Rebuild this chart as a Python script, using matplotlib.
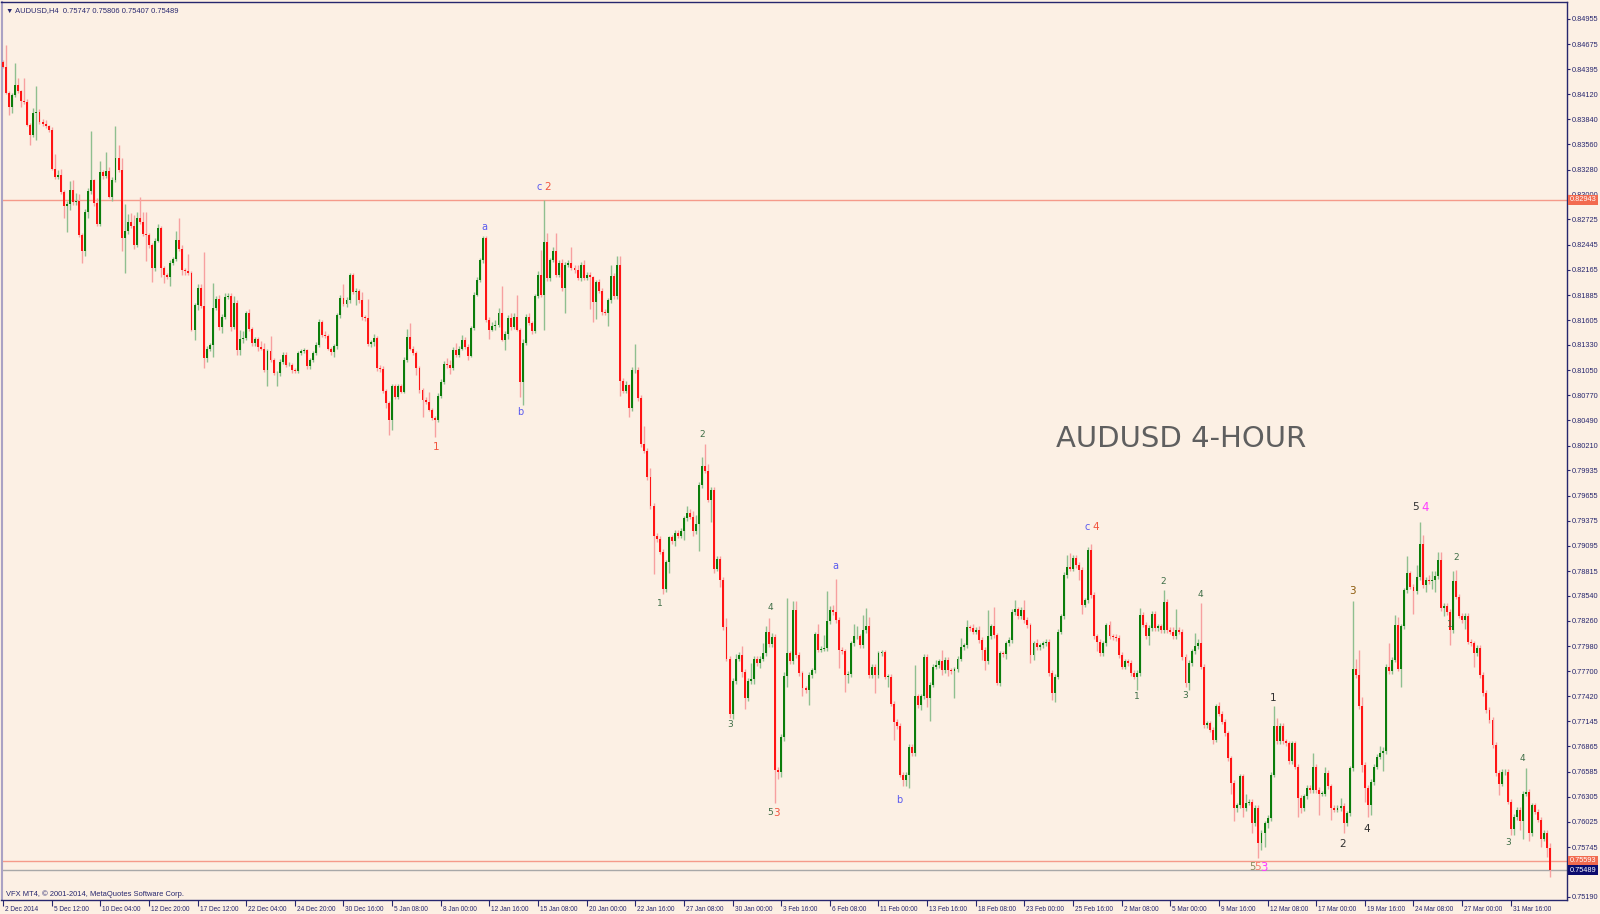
import numpy as np
import matplotlib
matplotlib.use("Agg")
import matplotlib.pyplot as plt
import matplotlib.transforms as mtransforms

# AUDUSD H4, bar closes in pips (price = value / 10000); open = previous close
first_open = 8448
closes = [
    8442, 8413, 8398, 8411, 8422, 8415, 8404, 8403, 8378, 8367,
    8391, 8392, 8381, 8379, 8376, 8372, 8329, 8320, 8322, 8303,
    8288, 8290, 8305, 8292, 8293, 8255, 8237, 8281, 8304, 8316,
    8291, 8268, 8325, 8321, 8326, 8298, 8316, 8341, 8328, 8252,
    8260, 8270, 8265, 8244, 8274, 8270, 8256, 8255, 8244, 8219,
    8249, 8263, 8219, 8211, 8209, 8224, 8228, 8250, 8240, 8216,
    8215, 8213, 8150, 8177, 8196, 8176, 8118, 8129, 8133, 8174,
    8184, 8153, 8164, 8186, 8187, 8153, 8180, 8127, 8140, 8141,
    8168, 8151, 8135, 8140, 8131, 8129, 8105, 8126, 8116, 8102,
    8102, 8114, 8122, 8111, 8111, 8105, 8104, 8124, 8126, 8127,
    8109, 8116, 8124, 8133, 8159, 8144, 8143, 8129, 8125, 8132,
    8166, 8185, 8178, 8183, 8211, 8192, 8193, 8183, 8164, 8163,
    8134, 8136, 8141, 8107, 8106, 8082, 8068, 8049, 8087, 8075,
    8087, 8081, 8116, 8142, 8129, 8124, 8107, 8083, 8072, 8070,
    8061, 8052, 8050, 8076, 8092, 8112, 8111, 8107, 8127, 8122,
    8129, 8139, 8131, 8121, 8152, 8189, 8205, 8227, 8252, 8161,
    8150, 8154, 8155, 8169, 8139, 8145, 8163, 8153, 8164, 8150,
    8092, 8135, 8164, 8157, 8148, 8187, 8211, 8188, 8248, 8207,
    8227, 8237, 8211, 8224, 8196, 8222, 8224, 8219, 8216, 8207,
    8222, 8207, 8211, 8208, 8181, 8203, 8193, 8170, 8168, 8183,
    8210, 8187, 8222, 8093, 8082, 8088, 8063, 8105, 8105, 8074,
    8023, 8015, 7986, 7954, 7921, 7917, 7903, 7862, 7891, 7919,
    7915, 7924, 7921, 7926, 7940, 7946, 7942, 7926, 7934, 7977,
    7998, 7993, 7961, 7972, 7884, 7895, 7872, 7819, 7784, 7722,
    7759, 7784, 7788, 7769, 7740, 7759, 7761, 7784, 7779, 7784,
    7790, 7814, 7800, 7808, 7660, 7658, 7697, 7765, 7790, 7781,
    7838, 7788, 7768, 7751, 7749, 7766, 7771, 7811, 7794, 7795,
    7796, 7826, 7838, 7836, 7827, 7794, 7792, 7766, 7767, 7801,
    7809, 7809, 7799, 7816, 7820, 7766, 7775, 7766, 7790, 7791,
    7764, 7764, 7734, 7714, 7709, 7655, 7649, 7655, 7686, 7679,
    7742, 7732, 7742, 7786, 7740, 7755, 7775, 7777, 7781, 7771,
    7783, 7771, 7770, 7772, 7784, 7797, 7799, 7819, 7818, 7814,
    7816, 7805, 7794, 7781, 7809, 7820, 7810, 7757, 7790, 7789,
    7801, 7805, 7836, 7839, 7831, 7838, 7827, 7821, 7788, 7801,
    7797, 7799, 7801, 7803, 7768, 7746, 7764, 7814, 7831, 7877,
    7886, 7884, 7896, 7888, 7883, 7844, 7849, 7905, 7855, 7809,
    7803, 7790, 7801, 7821, 7809, 7808, 7807, 7788, 7775, 7781,
    7779, 7768, 7764, 7768, 7833, 7822, 7809, 7818, 7834, 7818,
    7820, 7816, 7847, 7816, 7814, 7809, 7816, 7814, 7786, 7757,
    7779, 7792, 7798, 7801, 7775, 7710, 7712, 7705, 7694, 7731,
    7723, 7714, 7701, 7673, 7646, 7618, 7621, 7653, 7618, 7624,
    7625, 7601, 7618, 7579, 7590, 7601, 7607, 7655, 7709, 7692,
    7709, 7692, 7690, 7670, 7690, 7664, 7629, 7618, 7631, 7640,
    7638, 7664, 7638, 7634, 7634, 7657, 7642, 7618, 7616, 7618,
    7620, 7601, 7612, 7662, 7772, 7766, 7731, 7666, 7640, 7621,
    7647, 7664, 7675, 7679, 7681, 7775, 7770, 7783, 7822, 7773,
    7820, 7860, 7879, 7864, 7859, 7875, 7912, 7866, 7872, 7870,
    7872, 7876, 7894, 7840, 7843, 7836, 7816, 7870, 7853, 7832,
    7827, 7832, 7803, 7801, 7790, 7796, 7766, 7746, 7727, 7716,
    7688, 7657, 7645, 7658, 7658, 7625, 7595, 7608, 7616, 7603,
    7634, 7636, 7590, 7621, 7614, 7605, 7584, 7590, 7573, 7549,
]

# wick length above / below the body, in pips
hi_wick = [
    2, 25, 2, 2, 25, 8, 2, 26, 3, 2,
    6, 29, 3, 3, 4, 2, 3, 16, 6, 7,
    2, 3, 10, 11, 9, 8, 2, 3, 3, 55,
    1, 5, 13, 3, 22, 5, 4, 35, 14, 13,
    30, 9, 10, 13, 7, 24, 11, 25, 3, 2,
    3, 5, 2, 2, 2, 3, 3, 10, 24, 4,
    2, 19, 2, 3, 5, 5, 60, 3, 2, 28,
    3, 4, 3, 5, 4, 4, 7, 3, 10, 8,
    3, 5, 2, 2, 2, 6, 6, 3, 17, 2,
    2, 3, 3, 3, 3, 2, 2, 2, 3, 3,
    2, 2, 2, 3, 3, 2, 5, 2, 2, 2,
    2, 4, 16, 3, 2, 2, 3, 2, 9, 2,
    21, 2, 4, 2, 4, 4, 2, 3, 3, 3,
    3, 3, 3, 9, 15, 3, 2, 3, 2, 3,
    11, 2, 2, 3, 3, 3, 6, 5, 4, 8,
    3, 5, 3, 3, 2, 3, 3, 3, 2, 2,
    3, 4, 6, 5, 29, 4, 3, 6, 4, 24,
    2, 5, 3, 4, 3, 3, 4, 28, 46, 9,
    3, 5, 20, 3, 4, 3, 3, 18, 3, 6,
    3, 5, 3, 3, 2, 2, 3, 3, 3, 2,
    12, 3, 10, 10, 3, 5, 2, 3, 29, 3,
    3, 20, 3, 10, 3, 3, 3, 3, 3, 2,
    3, 3, 3, 3, 3, 8, 5, 6, 10, 3,
    10, 25, 8, 3, 3, 3, 3, 3, 10, 3,
    3, 5, 3, 10, 3, 3, 18, 3, 3, 3,
    12, 6, 15, 5, 3, 3, 3, 4, 61, 3,
    10, 10, 3, 2, 3, 3, 3, 3, 12, 3,
    14, 33, 5, 6, 37, 3, 3, 3, 3, 3,
    14, 11, 3, 17, 20, 10, 3, 3, 3, 3,
    3, 3, 3, 3, 3, 3, 3, 3, 3, 3,
    35, 3, 3, 3, 3, 3, 3, 5, 3, 13,
    3, 3, 3, 3, 3, 10, 3, 8, 3, 5,
    3, 4, 3, 3, 29, 3, 22, 3, 3, 3,
    3, 3, 3, 10, 3, 4, 11, 3, 3, 3,
    5, 3, 3, 3, 3, 3, 3, 3, 3, 3,
    13, 15, 3, 3, 3, 3, 3, 3, 7, 3,
    3, 3, 3, 3, 5, 3, 3, 3, 3, 3,
    3, 3, 3, 3, 7, 3, 3, 3, 3, 3,
    3, 3, 13, 3, 3, 5, 23, 3, 3, 3,
    3, 3, 15, 5, 45, 3, 3, 3, 3, 3,
    5, 3, 3, 3, 3, 3, 3, 3, 3, 10,
    3, 3, 3, 3, 3, 3, 3, 3, 22, 9,
    3, 3, 3, 3, 3, 3, 3, 3, 3, 3,
    3, 15, 3, 3, 3, 7, 3, 3, 3, 3,
    9, 3, 3, 3, 76, 12, 28, 10, 3, 3,
    3, 3, 3, 8, 5, 3, 26, 3, 11, 8,
    3, 3, 19, 3, 3, 13, 24, 10, 3, 5,
    10, 5, 9, 9, 3, 3, 3, 11, 13, 3,
    3, 3, 3, 3, 3, 3, 3, 3, 3, 3,
    3, 3, 3, 3, 3, 3, 3, 3, 3, 3,
    3, 26, 3, 3, 3, 3, 3, 3, 3, 6,
]
lo_wick = [
    1, 1, 9, 7, 2, 2, 6, 2, 2, 12,
    3, 30, 2, 2, 2, 2, 2, 2, 3, 2,
    14, 29, 7, 3, 3, 2, 13, 5, 7, 3,
    3, 3, 3, 3, 2, 2, 5, 2, 3, 15,
    39, 4, 2, 4, 2, 3, 2, 29, 3, 16,
    4, 2, 10, 9, 3, 10, 2, 2, 2, 5,
    4, 2, 2, 12, 5, 2, 11, 4, 3, 14,
    2, 3, 7, 2, 2, 5, 2, 5, 5, 5,
    2, 2, 3, 3, 5, 2, 2, 18, 2, 3,
    15, 4, 2, 3, 2, 3, 2, 2, 2, 2,
    3, 3, 2, 2, 2, 2, 2, 2, 3, 5,
    3, 3, 2, 3, 3, 2, 15, 3, 3, 3,
    2, 3, 4, 3, 3, 3, 5, 16, 11, 2,
    2, 2, 2, 2, 2, 2, 7, 3, 19, 3,
    2, 3, 19, 3, 2, 2, 4, 6, 2, 3,
    3, 2, 2, 5, 2, 2, 2, 2, 3, 3,
    10, 2, 4, 2, 2, 12, 5, 3, 2, 2,
    17, 26, 2, 2, 3, 2, 2, 2, 38, 3,
    3, 2, 3, 3, 3, 28, 2, 3, 3, 2,
    3, 2, 2, 35, 23, 19, 2, 4, 2, 14,
    3, 3, 3, 17, 3, 3, 10, 3, 3, 3,
    3, 2, 3, 3, 43, 3, 3, 6, 4, 12,
    3, 6, 3, 3, 10, 3, 3, 5, 3, 30,
    3, 3, 3, 25, 5, 3, 8, 3, 3, 4,
    5, 3, 3, 5, 12, 3, 3, 5, 3, 5,
    3, 3, 3, 3, 37, 8, 6, 5, 12, 3,
    3, 3, 3, 9, 3, 16, 3, 3, 3, 3,
    3, 3, 3, 3, 3, 20, 3, 19, 9, 3,
    3, 3, 3, 3, 3, 3, 3, 20, 3, 3,
    3, 11, 3, 20, 3, 3, 7, 7, 15, 3,
    3, 3, 5, 3, 10, 25, 3, 3, 3, 5,
    3, 6, 3, 30, 3, 3, 3, 3, 3, 3,
    3, 3, 11, 10, 3, 3, 3, 2, 3, 3,
    5, 3, 3, 3, 3, 3, 3, 3, 9, 5,
    3, 3, 3, 3, 3, 8, 10, 3, 3, 3,
    3, 3, 3, 3, 12, 10, 3, 3, 3, 3,
    10, 3, 3, 3, 3, 3, 3, 3, 3, 3,
    3, 3, 3, 15, 3, 3, 3, 10, 3, 3,
    3, 3, 3, 3, 3, 3, 3, 3, 3, 4,
    8, 3, 3, 3, 3, 3, 3, 3, 5, 3,
    3, 3, 3, 3, 12, 15, 5, 3, 10, 3,
    3, 11, 3, 17, 8, 15, 5, 3, 3, 3,
    3, 3, 3, 3, 3, 3, 21, 6, 3, 3,
    3, 3, 3, 24, 3, 3, 3, 13, 3, 3,
    3, 11, 3, 3, 3, 3, 3, 8, 15, 13,
    11, 3, 3, 3, 20, 3, 3, 3, 3, 3,
    20, 3, 3, 3, 25, 3, 3, 3, 8, 3,
    8, 14, 3, 3, 8, 3, 17, 3, 3, 3,
    3, 10, 3, 3, 15, 3, 3, 3, 3, 3,
    3, 3, 13, 3, 3, 3, 7, 7, 3, 10,
    20, 3, 9, 3, 3, 3, 10, 3, 10, 8,
]

last_bar = [0.75747, 0.75806, 0.75407, 0.75489]   # O H L C shown in the header
red_levels = [0.82943, 0.75593]
bid_level = 0.75489

price_ticks = [0.84955, 0.84675, 0.84395, 0.84120, 0.83840, 0.83560, 0.83280,
               0.83000, 0.82725, 0.82445, 0.82165, 0.81885, 0.81605, 0.81330,
               0.81050, 0.80770, 0.80490, 0.80210, 0.79935, 0.79655, 0.79375,
               0.79095, 0.78815, 0.78540, 0.78260, 0.77980, 0.77700, 0.77420,
               0.77145, 0.76865, 0.76585, 0.76305, 0.76025, 0.75745, 0.75190]

date_labels = ["2 Dec 2014", "5 Dec 12:00", "10 Dec 04:00", "12 Dec 20:00",
               "17 Dec 12:00", "22 Dec 04:00", "24 Dec 20:00", "30 Dec 16:00",
               "5 Jan 08:00", "8 Jan 00:00", "12 Jan 16:00", "15 Jan 08:00",
               "20 Jan 00:00", "22 Jan 16:00", "27 Jan 08:00", "30 Jan 00:00",
               "3 Feb 16:00", "6 Feb 08:00", "11 Feb 00:00", "13 Feb 16:00",
               "18 Feb 08:00", "23 Feb 00:00", "25 Feb 16:00", "2 Mar 08:00",
               "5 Mar 00:00", "9 Mar 16:00", "12 Mar 08:00", "17 Mar 00:00",
               "19 Mar 16:00", "24 Mar 08:00", "27 Mar 00:00", "31 Mar 16:00"]
bars_per_label = 16

RED = "#f2553f"
BLUE = "#5a5aef"
MINOR = "#3f6e47"
BLACK = "#303030"
BROWN = "#8c5a0a"
OLIVE = "#8a8a5c"
MAG = "#ff3cff"
SALMON = "#f47c6c"

# Elliott wave marks: (bar, price, text, colour, size)
waves = [
    (142.4, 0.80195, "1", RED, 7.5),
    (158.2, 0.82642, "a", BLUE, 7),
    (170.1, 0.80584, "b", BLUE, 7),
    (176.3, 0.83086, "c", BLUE, 7),
    (179.3, 0.83086, "2", RED, 7.5),
    (216.1, 0.78449, "1", MINOR, 6.5),
    (229.9, 0.80339, "2", MINOR, 6.5),
    (239.1, 0.77103, "3", MINOR, 6.5),
    (252.3, 0.78404, "4", MINOR, 6.5),
    (252.3, 0.76124, "5", MINOR, 6.5),
    (254.6, 0.76124, "3", RED, 7.5),
    (273.7, 0.78871, "a", BLUE, 7),
    (294.7, 0.76268, "b", BLUE, 7),
    (356.6, 0.79305, "c", BLUE, 7),
    (359.5, 0.79305, "4", RED, 7.5),
    (373.0, 0.77414, "1", MINOR, 6.5),
    (381.6, 0.78704, "2", MINOR, 6.5),
    (388.8, 0.77425, "3", MINOR, 6.5),
    (393.8, 0.78549, "4", MINOR, 6.5),
    (410.9, 0.75523, "5", OLIVE, 7),
    (412.8, 0.75523, "5", SALMON, 7.5),
    (414.8, 0.75523, "3", MAG, 8.5),
    (417.8, 0.77403, "1", BLACK, 7.5),
    (440.8, 0.75779, "2", BLACK, 7.5),
    (443.8, 0.78593, "3", BROWN, 7.5),
    (448.7, 0.75946, "4", BLACK, 7.5),
    (464.8, 0.79527, "5", BLACK, 7.5),
    (467.8, 0.79527, "4", MAG, 8.5),
    (476.0, 0.78215, "1", MINOR, 6.5),
    (478.0, 0.78971, "2", MINOR, 6.5),
    (495.1, 0.75790, "3", MINOR, 6.5),
    (499.7, 0.76725, "4", MINOR, 6.5),
]

BG = "#fcf0e4"
NAVY = "#26266e"
SMALL = "Liberation Sans"

c = np.array(closes) / 10000.0
o = np.concatenate([[first_open], closes[:-1]]) / 10000.0
hi = np.maximum(o, c) + np.array(hi_wick) / 10000.0
lo = np.minimum(o, c) - np.array(lo_wick) / 10000.0
x = np.arange(len(c))
bull = c >= o

fig = plt.figure(figsize=(16, 9.14), dpi=100, facecolor=BG)
ax = fig.add_axes([1.5 / 1600, 14 / 914, 1565.5 / 1600, 898 / 914])
ax.set_facecolor(BG)

# wicks
ax.vlines(x[bull], lo[bull], hi[bull], color="#8fbf8f", lw=1.0, zorder=2)
ax.vlines(x[~bull], lo[~bull], hi[~bull], color="#f7a0a0", lw=1.0, zorder=2)
# bodies
body = np.maximum(np.abs(c - o), 0.00002)
bottom = np.minimum(o, c)
ax.bar(x[bull], body[bull], bottom=bottom[bull], width=0.64,
       color="#0b7d0b", linewidth=0, zorder=3)
ax.bar(x[~bull], body[~bull], bottom=bottom[~bull], width=0.64,
       color="#ff1414", linewidth=0, zorder=3)

# horizontal levels
for lv in red_levels:
    ax.axhline(lv, color="#f59a8a", lw=1.0, zorder=1)
ax.axhline(bid_level, color="#a8a8a8", lw=1.0, zorder=1)

ax.set_xlim(-0.5, 514.5)
ax.set_ylim(0.75156, 0.85144)

# right price scale
ax.yaxis.tick_right()
ax.set_yticks(price_ticks)
ax.set_yticklabels([f"{p:.5f}" for p in price_ticks], family=SMALL)
ax.tick_params(axis="y", direction="out", length=2.5, width=0.8, pad=1,
               labelsize=5.3, colors=NAVY)

# bottom time scale
ax.set_xticks(np.arange(len(date_labels)) * bars_per_label)
ax.set_xticklabels(date_labels, family=SMALL)
ax.tick_params(axis="x", direction="out", length=4, width=0.8, pad=0,
               labelsize=4.7, colors=NAVY)
shift = mtransforms.ScaledTranslation(2 / 100, 0, fig.dpi_scale_trans)
for lab in ax.get_xticklabels():
    lab.set_horizontalalignment("left")
    lab.set_transform(lab.get_transform() + shift)

for side in ["top", "right", "bottom"]:
    ax.spines[side].set_color(NAVY)
    ax.spines[side].set_linewidth(1.0)
ax.spines["left"].set_color("#aaa2c4")
ax.spines["left"].set_linewidth(1.5)

# price boxes on the scale
for lv, fc in [(red_levels[0], "#f26a4f"), (red_levels[1], "#f26a4f"),
               (bid_level, "#0c0c6e")]:
    ax.annotate(f"{lv:.5f}", xy=(1.0, lv), xycoords=("axes fraction", "data"),
                xytext=(2, 0), textcoords="offset points", ha="left", va="center",
                fontsize=5.3, family=SMALL, color="white", annotation_clip=False,
                zorder=6, bbox=dict(boxstyle="square,pad=0.2", fc=fc, ec="none"))

# wave labels
for bx, py, txt, col, fs in waves:
    ax.text(bx, py, txt, color=col, fontsize=fs, ha="center", va="center", zorder=5)

ax.text(0.7535, 0.5134, "AUDUSD 4-HOUR", transform=ax.transAxes, ha="center",
        va="center", fontsize=21, color="#5f5f5f")

header = "\u25bc AUDUSD,H4  " + " ".join(f"{v:.5f}" for v in last_bar)
ax.text(0.003, 0.994, header, transform=ax.transAxes, ha="left", va="top",
        fontsize=5.4, family=[SMALL, "DejaVu Sans"], color=NAVY)
ax.text(0.003, 0.007, "VFX MT4, \u00a9 2001-2014, MetaQuotes Software Corp.",
        transform=ax.transAxes, ha="left", va="center", fontsize=5.4,
        family=SMALL, color=NAVY)

fig.savefig("out.png", dpi=100, facecolor=BG)
